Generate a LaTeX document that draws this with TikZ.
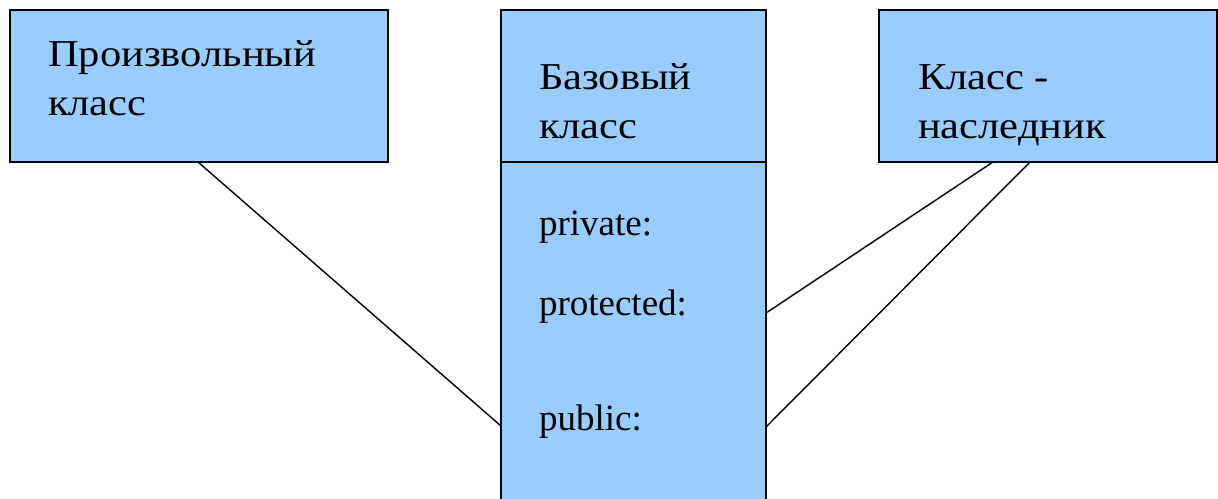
\documentclass[tikz,border=0pt]{standalone}
\usepackage{fontspec}
\setmainfont{Liberation Serif}
\newfontfamily\cyrwide[FakeStretch=1.12]{Liberation Serif}
\usetikzlibrary{calc}
\definecolor{boxblue}{HTML}{99CCFF}
\tikzset{
  classbox/.style={draw=black, fill=boxblue, line width=1.6pt, rectangle, inner sep=0pt, outer sep=0pt},
  lbl/.style={inner sep=0pt, outer sep=0pt, align=left, anchor=base west, font=\fontsize{37}{49}\selectfont},
  title/.style={lbl, font=\cyrwide\fontsize{38}{49}\selectfont},
  link/.style={draw=black, line width=1.4pt}
}
\begin{document}
\begin{tikzpicture}[x=1pt,y=-1pt]
\useasboundingbox (0,0) rectangle (1218,498);
\clip (0,0) rectangle (1218,498);
% boxes
\node[classbox, minimum width=378pt, minimum height=152pt] (arb) at (199,86) {};
\node[classbox, minimum width=265pt, minimum height=152pt] (basetop) at (633.5,86) {};
\node[classbox, minimum width=265pt, minimum height=350pt, anchor=north] (basebot) at (basetop.south) {};
\node[classbox, minimum width=338pt, minimum height=152pt] (derived) at (1048,86) {};
% labels (base anchor = last line baseline)
\node[title] (arbtext) at (48,115) {Произвольный\\класс};
\node[title] (basetext) at (539,138) {Базовый\\класс};
\node[title] (dertext) at (918,138) {Класс -\\наследник};
\node[lbl] (priv) at (539,235) {private:};
\node[lbl] (prot) at (539,315) {protected:};
\node[lbl] (publ) at (539,430) {public:};
% connectors
\coordinate (a1) at ($(arb.south west)+(188,0)$);
\coordinate (b1) at ($(basebot.north west)+(0,264)$);
\coordinate (d1) at ($(derived.south west)+(114,0)$);
\coordinate (d2) at ($(derived.south west)+(151,0)$);
\coordinate (b2) at ($(basebot.north east)+(0,151)$);
\coordinate (b3) at ($(basebot.north east)+(0,265)$);
\draw[link] (a1) -- (b1);
\draw[link] (d1) -- (b2);
\draw[link] (d2) -- (b3);
\end{tikzpicture}
\end{document}
